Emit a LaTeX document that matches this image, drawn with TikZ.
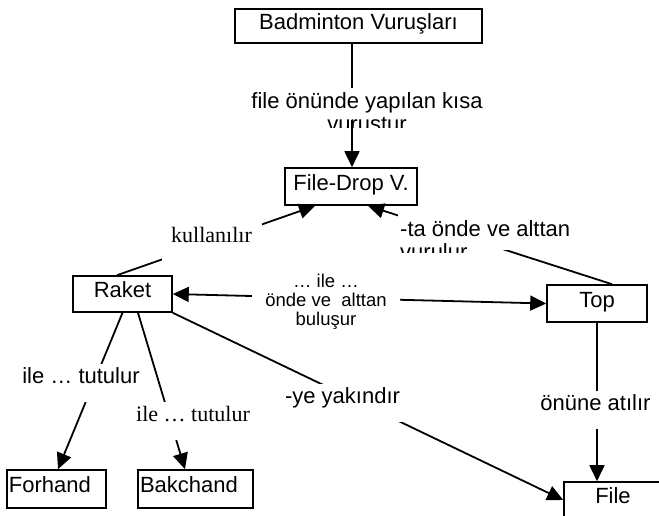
\documentclass[tikz,border=0pt]{standalone}
\usepackage{fontspec}
\setmainfont{Liberation Sans}
\newfontfamily\timesfont{Liberation Serif}
\usetikzlibrary{arrows.meta}

\tikzset{
  box/.style={draw, line width=1.6pt, inner sep=0pt, text height=15pt, text depth=8pt,
              font=\fontsize{22}{24}\selectfont},
  leftbox/.style={box, align=left, inner xsep=2pt},
  lbl/.style={fill=white, inner sep=0pt, anchor=base, minimum height=38pt,
              text height=15pt, text depth=14pt, font=\fontsize{22}{24}\selectfont},
  seriflbl/.style={lbl, font=\fontsize{22}{24}\selectfont\timesfont},
  textlbl/.style={inner sep=0pt, font=\fontsize{22}{23}\selectfont},
  link/.style={line width=1.8pt},
  tip/.tip={Triangle[length=16pt,width=15pt]},
  arr/.style={link, -tip},
  biarr/.style={link, tip-tip}
}

\begin{document}
\begin{tikzpicture}[x=1pt,y=-1pt]
\useasboundingbox (0,0) rectangle (659,515);

% concept boxes
\node[box, minimum width=247pt, minimum height=34pt] (bad) at (358.5,26) {Badminton Vuruşları};
\node[box, minimum width=132pt, minimum height=37pt] (drop) at (351,186.5) {File-Drop V.};
\node[box, minimum width=99pt, minimum height=36pt] (raket) at (122.5,294) {Raket};
\node[box, minimum width=100pt, minimum height=37pt] (top) at (597,303.5) {Top};
\node[leftbox, text width=95pt, minimum height=38pt] (forhand) at (56.5,489) {Forhand};
\node[leftbox, text width=111pt, minimum height=38pt] (bakchand) at (195.5,489) {Bakchand};
\node[box, minimum width=98pt, minimum height=36pt] (file) at (613,500) {File};

% connectors
\draw[arr] ([xshift=-6.5pt]bad.south) -- ([xshift=1pt]drop.north);
\draw[arr] ([xshift=-5.5pt]raket.north) -- ([xshift=-36pt]drop.south);
\draw[arr] ([xshift=15pt]top.north) -- ([xshift=17pt]drop.south);
\draw[biarr] (raket.east) -- (top.west);
\draw[arr] (raket.south) -- ([xshift=1.5pt]forhand.north);
\draw[arr] ([xshift=15.5pt]raket.south) -- ([xshift=-10.5pt]bakchand.north);
\draw[arr] (raket.south east) -- (file.west);
\draw[arr] (top.south) -- (top.south |- file.north);

% connector labels
\node[seriflbl, minimum width=100pt] (use) at (211.5,242) {kullanılır};
\node[lbl, minimum width=116pt] (hold1) at (81,383) {ile … tutulur};
\node[seriflbl, minimum width=112pt] (hold2) at (193,421) {ile … tutulur};
\node[lbl, minimum width=124pt] (near) at (342.5,403) {-ye yakındır};
\node[lbl, minimum width=110pt] (throw) at (595.5,410) {önüne atılır};
\node[fill=white, inner sep=0pt, align=center, minimum width=148pt, minimum height=56pt,
      font=\fontsize{18.5}{19}\selectfont] (meet) at (326,301.5)
      {… ile …\\önde ve\ \ alttan\\buluşur};

% labels whose second line is cut by their frame
\fill[white] (248,88) rectangle (487,120);
\begin{scope}
  \clip (248,88) rectangle (487,127);
  \node[textlbl, align=center, anchor=north] (def) at (367,92)
       {file önünde yapılan kısa\\vuruştur};
\end{scope}
\fill[white] (398,209) rectangle (580,250);
\begin{scope}
  \clip (398,209) rectangle (580,252);
  \node[textlbl, align=left, anchor=north west] (hit) at (400,220)
       {-ta önde ve alttan\\vurulur};
\end{scope}
\end{tikzpicture}
\end{document}
